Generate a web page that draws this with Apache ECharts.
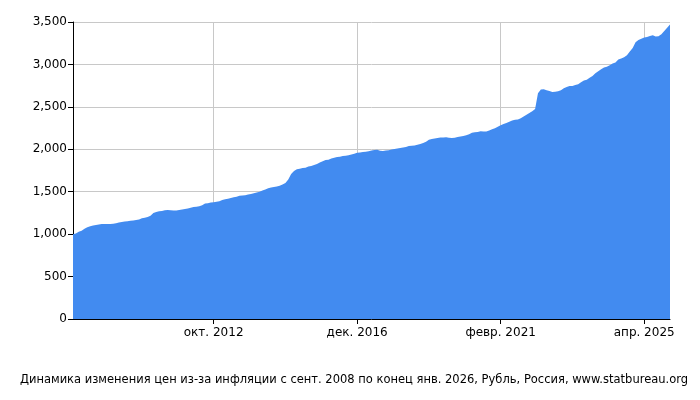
<!DOCTYPE html>
<html><head><meta charset="utf-8">
<script src="https://cdn.jsdelivr.net/npm/echarts@6/dist/echarts.min.js"></script>
<style>html,body{margin:0;padding:0}#c{width:700px;height:400px}</style>
</head><body><div id="c"></div>
<script>
const monthNames = ["янв.","февр.","март","апр.","май","июнь","июль","авг.","сент.","окт.","нояб.","дек."];
const tickLabels = ["окт. 2012","дек. 2016","февр. 2021","апр. 2025"];
const values = [
1000,1009,1027,1040,
1064,1082,1094,1101,1108,1115,1120,1120,1119,1120,1123,1127,
1138,1143,1150,1153,1158,1162,1167,1174,1188,1193,1203,1217,
1249,1261,1269,1274,1281,1284,1283,1280,1279,1285,1290,1296,
1302,1312,1320,1324,1330,1341,1361,1365,1372,1377,1382,1389,
1402,1411,1418,1427,1436,1441,1453,1455,1458,1466,1474,1481,
1490,1500,1515,1527,1540,1550,1557,1560,1571,1584,1604,1645,
1708,1745,1765,1772,1778,1782,1797,1803,1815,1828,1845,1858,
1874,1878,1892,1900,1908,1911,1921,1925,1930,1940,1948,1958,
1963,1967,1970,1978,1985,1993,1994,1983,1980,1985,1990,1998,
2003,2008,2014,2022,2028,2038,2043,2045,2054,2062,2073,2090,
2111,2120,2127,2133,2138,2139,2143,2137,2134,2137,2144,2152,
2158,2165,2177,2195,2200,2205,2212,2210,2210,2220,2237,2249,
2265,2282,2298,2310,2325,2340,2347,2352,2366,2385,2407,2427,
2448,2474,2660,2705,2708,2697,2687,2674,2679,2683,2697,2720,
2733,2745,2747,2758,2766,2790,2811,2818,2842,2865,2897,2919,
2943,2963,2974,2989,3011,3024,3057,3070,3084,3108,3153,3193,
3262,3289,3303,3316,3323,3336,3344,3330,3332,3355,3395,3432,
3470];
const categories = values.map((v,i)=>{const m=(8+i)%12, y=2008+Math.floor((8+i)/12);return monthNames[m]+" "+y;});
const showTick = (i,v)=>tickLabels.includes(v);
const chart = echarts.init(document.getElementById('c'));
chart.setOption({
  animation:false,
  textStyle:{fontFamily:'DejaVu Sans'},
  title:{text:'Динамика изменения цен из-за инфляции с сент. 2008 по конец янв. 2026, Рубль, Россия, www.statbureau.org',
    left:349,top:369,textAlign:'center',textStyle:{fontSize:11.5,fontWeight:'normal',color:'#000',fontFamily:'DejaVu Sans'}},
  grid:{left:73,right:30,top:22,bottom:81},
  xAxis:{type:'category',data:categories,boundaryGap:false,
    axisLine:{lineStyle:{color:'#000'}},
    axisTick:{show:true,interval:showTick,lineStyle:{color:'#000'}},
    axisLabel:{interval:showTick,color:'#000',fontSize:12,margin:8},
    splitLine:{show:true,interval:showTick,lineStyle:{color:'#c8c8c8'}}},
  yAxis:{type:'value',min:0,max:3500,interval:500,
    axisLine:{show:true,lineStyle:{color:'#000'}},
    axisTick:{show:true,lineStyle:{color:'#000'}},
    axisLabel:{color:'#000',fontSize:12,margin:6},
    splitLine:{lineStyle:{color:'#c8c8c8'}}},
  series:[{type:'line',data:values,symbol:'none',lineStyle:{width:0},
    areaStyle:{color:'#428bf0',opacity:1}}]
});
</script></body></html>
